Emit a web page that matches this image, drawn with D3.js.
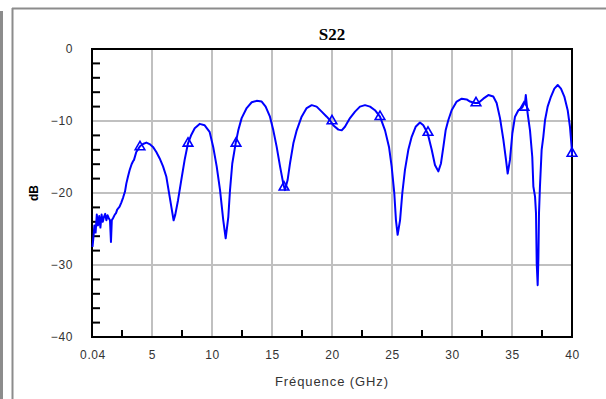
<!DOCTYPE html>
<html><head><meta charset="utf-8">
<script src="https://cdn.jsdelivr.net/npm/d3@7"></script>
<style>html,body{margin:0;padding:0;background:#fff;overflow:hidden}</style>
</head><body>
<svg id="c" width="606" height="399"></svg>
<script>
// Frequency (GHz) and S22 (dB)
const freq = [0.04,0.1,0.2,0.3,0.4,0.5,0.6,0.7,0.8,0.9,1.0,1.1,1.2,1.3,1.4,1.5,1.58,1.65,1.75,1.9,2.0,2.1,2.3,2.45,2.6,2.75,2.86,3.0,3.14,3.3,3.42,3.5,3.69,3.85,4.0,4.25,4.53,4.8,5.08,5.36,5.64,5.92,6.19,6.47,6.8,6.94,7.17,7.44,7.72,8.0,8.28,8.56,8.97,9.39,9.8,10.1,10.39,10.67,10.94,11.14,11.36,11.5,11.69,11.97,12.19,12.47,12.89,13.31,13.72,14.14,14.47,14.83,15.11,15.39,15.67,15.94,16.08,16.3,16.5,16.78,17.06,17.47,17.89,18.31,18.72,19.14,19.56,19.83,20.1,20.53,20.81,21.08,21.5,21.92,22.33,22.75,23.17,23.58,24.0,24.42,24.75,24.97,25.19,25.33,25.47,25.67,25.86,26.08,26.36,26.64,26.97,27.33,27.61,27.97,28.31,28.58,28.86,29.08,29.28,29.47,29.69,29.97,30.39,30.81,31.22,31.5,31.92,32.19,32.61,33.03,33.44,33.72,34.0,34.28,34.5,34.64,34.83,35.03,35.25,35.53,35.86,36.0,36.08,36.15,36.3,36.5,36.69,36.78,36.92,37.0,37.06,37.14,37.2,37.25,37.33,37.47,37.61,37.75,37.97,38.25,38.53,38.81,39.08,39.36,39.64,39.83,39.97,40.0];
const s22 = [-27.5,-26.5,-24.5,-25.5,-23,-24.5,-23.2,-24.8,-23,-24,-23.3,-22.9,-23.8,-23.1,-23.5,-23.8,-26.8,-23.8,-23.5,-23.0,-22.8,-22.3,-21.9,-21.3,-20.6,-19.8,-18.7,-17.7,-16.8,-16.0,-15.6,-15.4,-14.3,-13.9,-13.5,-13.2,-13.0,-13.2,-13.6,-14.3,-15.2,-16.3,-17.7,-20.5,-23.8,-23.0,-21.0,-18.2,-15.4,-13.1,-11.9,-11.0,-10.4,-10.6,-11.5,-13.6,-16.3,-19.6,-23.8,-26.3,-23.3,-19.6,-15.9,-13.1,-11.3,-9.6,-8.2,-7.4,-7.2,-7.3,-8.0,-9.4,-11.3,-13.6,-16.3,-18.7,-19.6,-18.2,-15.9,-13.1,-11.3,-9.4,-8.2,-7.8,-8.0,-8.7,-9.4,-9.9,-10.6,-11.2,-11.3,-10.8,-9.6,-8.7,-8.0,-7.8,-8.0,-8.5,-9.4,-11.3,-13.6,-16.3,-20.0,-23.8,-25.8,-23.8,-20.0,-16.8,-14.0,-12.2,-10.8,-10.2,-10.6,-11.7,-14.0,-16.1,-17.0,-15.9,-13.6,-11.3,-9.9,-8.5,-7.3,-6.9,-7.0,-7.3,-7.5,-7.5,-6.9,-6.4,-6.6,-7.5,-9.6,-12.6,-15.4,-17.3,-15.4,-11.7,-9.4,-8.5,-8.1,-7.6,-7.5,-6.4,-8.9,-11.3,-15.0,-19.1,-20.5,-22.8,-29.8,-32.8,-29.0,-22.8,-19.1,-14.0,-12.2,-9.9,-8.0,-6.6,-5.5,-5.0,-5.5,-6.6,-8.5,-10.8,-13.6,-14.7];
const markerFreq = [4,8,12,16,20,24,28,32,36,40];
const markerVal = [-13.6,-13.1,-13.1,-19.2,-10.0,-9.4,-11.6,-7.5,-8.1,-14.5];
const xTicks = [0.04,5,10,15,20,25,30,35,40];
const xTickLabels = ["0.04","5","10","15","20","25","30","35","40"];
const yTicks = [0,-10,-20,-30,-40];
const xMinor = [2.5,7.5,12.5,17.5,22.5,27.5,32.5,37.5];
const yMinor = [-2,-4,-6,-8,-12,-14,-16,-18,-22,-24,-26,-28,-32,-34,-36,-38];
const titleText = "S22", xTitle = "Fréquence (GHz)", yTitle = "dB";

const svg = d3.select("#c");
const L = 92, R = 572, T = 49, B = 337;
const x = d3.scaleLinear().domain([0,40]).range([L,R]);
const y = d3.scaleLinear().domain([-40,0]).range([B,T]);

// outer frame
svg.append("rect").attr("x",0).attr("y",11).attr("width",3).attr("height",399).attr("fill","#8c8c8c");
svg.append("line").attr("x1",12.5).attr("x2",12.5).attr("y1",8).attr("y2",399).attr("stroke","#8c8c8c").attr("stroke-width",2);
svg.append("line").attr("x1",12).attr("x2",606).attr("y1",8.5).attr("y2",8.5).attr("stroke","#8c8c8c").attr("stroke-width",2);

// gridlines
const g = svg.append("g");
g.selectAll("line.vg").data(xTicks.filter(d=>d>1&&d<40)).join("line")
  .attr("x1",d=>x(d)).attr("x2",d=>x(d)).attr("y1",T).attr("y2",B)
  .attr("stroke","#c0c0c0").attr("stroke-width",2);
g.selectAll("line.hg").data(yTicks.filter(d=>d<0&&d>-40)).join("line").attr("class","hg")
  .attr("x1",L).attr("x2",R).attr("y1",d=>y(d)).attr("y2",d=>y(d))
  .attr("stroke","#c0c0c0").attr("stroke-width",2);

// minor ticks
g.selectAll("line.ym").data(yMinor).join("line").attr("class","ym")
  .attr("x1",L).attr("x2",L+8).attr("y1",d=>y(d)).attr("y2",d=>y(d))
  .attr("stroke","#000").attr("stroke-width",2);
g.selectAll("line.xm").data(xMinor).join("line").attr("class","xm")
  .attr("x1",d=>x(d)).attr("x2",d=>x(d)).attr("y1",B).attr("y2",B-7)
  .attr("stroke","#000").attr("stroke-width",2);

// plot border
svg.append("rect").attr("x",L).attr("y",T).attr("width",R-L).attr("height",B-T)
  .attr("fill","none").attr("stroke","#000").attr("stroke-width",2);

// axes labels via d3 axes (no domain, no ticks)
const xAxis = d3.axisBottom(x).tickValues(xTicks).tickFormat((d,i)=>xTickLabels[i]).tickSize(0).tickPadding(13);
const xa = svg.append("g").attr("transform",`translate(0,${B})`).call(xAxis);
const yAxis = d3.axisLeft(y).tickValues(yTicks).tickSize(0).tickPadding(19);
const ya = svg.append("g").attr("transform",`translate(${L},0)`).call(yAxis);
[xa,ya].forEach(a=>{a.select(".domain").remove();
  a.selectAll("text").attr("font-family","'Liberation Sans',Arial,sans-serif").attr("font-size",12)
   .attr("fill","#333").style("letter-spacing","0.6px");});

// data line
const line = d3.line().x((d,i)=>x(freq[i])).y(d=>y(d));
svg.append("path").datum(s22).attr("d",line).attr("fill","none")
  .attr("stroke","#0000ff").attr("stroke-width",2).attr("stroke-linejoin","round");

// markers
const tri = d3.symbol().type(d3.symbolTriangle).size(40);
svg.selectAll("path.mk").data(markerVal).join("path").attr("class","mk")
  .attr("d",tri).attr("transform",(d,i)=>`translate(${x(markerFreq[i])},${y(d)})`)
  .attr("fill","none").attr("stroke","#0000ff").attr("stroke-width",1.6);

// titles
svg.append("text").attr("x",(L+R)/2).attr("y",40).attr("text-anchor","middle")
  .attr("font-family","'Liberation Serif','Times New Roman',serif").attr("font-weight","bold")
  .attr("font-size",17).text(titleText);
svg.append("text").attr("x",(L+R)/2).attr("y",386).attr("text-anchor","middle")
  .attr("font-family","'Liberation Sans',Arial,sans-serif").attr("font-size",13)
  .attr("fill","#333").style("letter-spacing","0.9px").text(xTitle);
svg.append("text").attr("transform","translate(38,193) rotate(-90)").attr("text-anchor","middle")
  .attr("font-family","'Liberation Sans',Arial,sans-serif").attr("font-weight","bold")
  .attr("font-size",12).text(yTitle);
</script>
</body></html>
